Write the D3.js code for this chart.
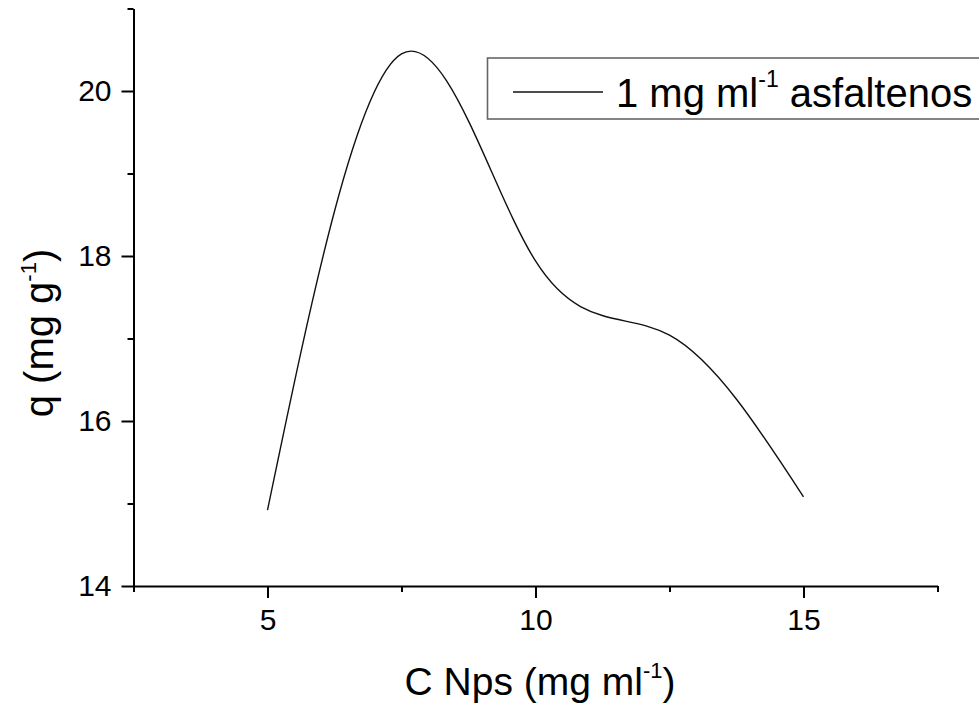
<!DOCTYPE html>
<html>
<head>
<meta charset="utf-8">
<script src="https://cdn.jsdelivr.net/npm/d3@7"></script>
<style>
  html, body { margin: 0; padding: 0; background: #fff; }
  svg { display: block; font-family: "Liberation Sans", Arial, sans-serif; }
</style>
</head>
<body>
<svg id="chart" width="979" height="714"></svg>
<script>
// Adsorption capacity vs nanoparticle concentration
const concentrations = [5, 7.5, 10, 12.5, 15];             // C Nps (mg ml^-1)
const adsorption     = [14.92, 20.45, 17.94, 17.04, 15.08]; // q (mg g^-1)
const seriesName = "1 mg ml";
const seriesSup = "-1";
const seriesTail = " asfaltenos";

const xMajorTicks = [5, 10, 15];
const xMinorTicks = [2.5, 7.5, 12.5, 17.5];
const yMajorTicks = [14, 16, 18, 20];
const yMinorTicks = [15, 17, 19, 21];

const svg = d3.select("#chart");

const x = d3.scaleLinear().domain([2.5, 17.5]).range([133.5, 937.5]);
const y = d3.scaleLinear().domain([14, 21]).range([586, 8.5]);

// Minor ticks (short, unlabeled)
svg.append("g")
  .attr("transform", `translate(0,${y(14)})`)
  .call(d3.axisBottom(x).tickValues(xMinorTicks).tickSize(6).tickFormat(""))
  .call(g => g.select(".domain").remove())
  .call(g => g.selectAll("line").attr("stroke", "#000").attr("stroke-width", 2));

svg.append("g")
  .attr("transform", `translate(${x(2.5)},0)`)
  .call(d3.axisLeft(y).tickValues(yMinorTicks).tickSize(6).tickFormat(""))
  .call(g => g.select(".domain").remove())
  .call(g => g.selectAll("line").attr("stroke", "#000").attr("stroke-width", 2));

// Major ticks with labels
const xAxis = svg.append("g")
  .attr("transform", `translate(0,${y(14)})`)
  .call(d3.axisBottom(x).tickValues(xMajorTicks).tickSize(12).tickPadding(11).tickSizeOuter(0).tickFormat(d3.format("d")));

const yAxis = svg.append("g")
  .attr("transform", `translate(${x(2.5)},0)`)
  .call(d3.axisLeft(y).tickValues(yMajorTicks).tickSize(12).tickPadding(10).tickSizeOuter(0).tickFormat(d3.format("d")));

[xAxis, yAxis].forEach(g => {
  g.select(".domain").attr("stroke", "#000").attr("stroke-width", 2);
  g.selectAll(".tick line").attr("stroke", "#000").attr("stroke-width", 2);
  g.selectAll(".tick text")
    .attr("fill", "#000")
    .style("font-family", "'Liberation Sans', Arial, sans-serif")
    .style("font-size", "30px");
});

// Data curve: natural cubic spline through the measured points
const points = concentrations.map((c, i) => [c, adsorption[i]]);
const line = d3.line()
  .x(d => x(d[0]))
  .y(d => y(d[1]))
  .curve(d3.curveNatural);

svg.append("path")
  .datum(points)
  .attr("d", line)
  .attr("fill", "none")
  .attr("stroke", "#111")
  .attr("stroke-width", 1.4);

// Text with a raised "-1" exponent
function withSuperscript(sel, main, sup, tail, supSize, rise) {
  sel.append("tspan").text(main);
  sel.append("tspan").attr("dy", -rise).style("font-size", supSize + "px").text(sup);
  sel.append("tspan").attr("dy", rise).text(tail);
}

// Axis titles
const xTitle = svg.append("text")
  .attr("x", 540)
  .attr("y", 695)
  .attr("text-anchor", "middle")
  .style("font-size", "39px")
  .attr("fill", "#000");
withSuperscript(xTitle, "C Nps (mg ml", "-1", ")", 22, 17);

const yTitle = svg.append("text")
  .attr("transform", "translate(53,333) rotate(-90)")
  .attr("text-anchor", "middle")
  .style("font-size", "40px")
  .attr("fill", "#000");
withSuperscript(yTitle, "q (mg g", "-1", ")", 22, 17);

// Legend
const legend = svg.append("g");
legend.append("rect")
  .attr("x", 487.5)
  .attr("y", 58)
  .attr("width", 520)
  .attr("height", 61)
  .attr("fill", "#fff")
  .attr("stroke", "#666")
  .attr("stroke-width", 1.6);
legend.append("line")
  .attr("x1", 513).attr("x2", 603)
  .attr("y1", 92).attr("y2", 92)
  .attr("stroke", "#111")
  .attr("stroke-width", 1.4);
const legText = legend.append("text")
  .attr("x", 616)
  .attr("y", 107)
  .style("font-size", "40px")
  .attr("fill", "#000");
withSuperscript(legText, seriesName, seriesSup, seriesTail, 23, 20);
</script>
</body>
</html>
